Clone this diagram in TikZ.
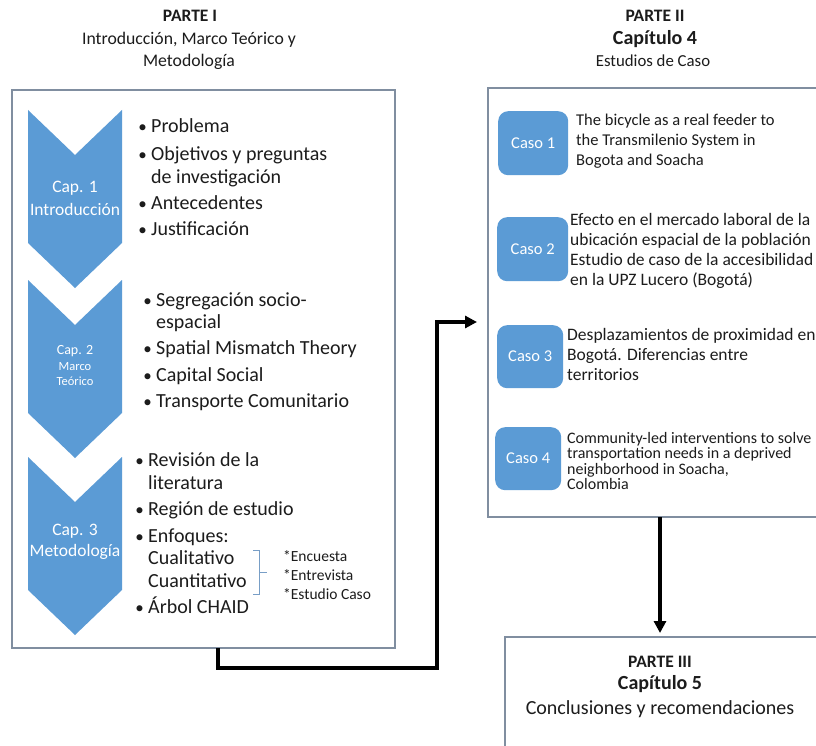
\documentclass[tikz,border=0pt]{standalone}
\usepackage{fontspec}
\setmainfont{Carlito}
\usetikzlibrary{arrows.meta,fit}
\definecolor{capblue}{RGB}{91,155,213}
\definecolor{frame}{RGB}{128,142,160}
\definecolor{ink}{RGB}{28,28,28}
\definecolor{bracecol}{RGB}{120,158,198}

\newcommand\fs[2]{\fontsize{#1}{#2}\selectfont}

\begin{document}
\begin{tikzpicture}[x=1pt,y=-1pt,
  panel/.style={draw=frame,line width=1.2pt,inner sep=0pt,outer sep=0pt},
  title/.style={font=\fs{17.5}{20}\bfseries,text=ink,inner sep=0pt},
  subtitle/.style={font=\fs{17.7}{23},text=ink,inner sep=0pt,align=center},
  chap/.style={font=\fs{20}{24}\bfseries,text=ink,inner sep=0pt},
  caplbl/.style={font=\fs{17.5}{21},text=white,inner sep=0pt},
  caplblsm/.style={font=\fs{12.5}{14},text=white,inner sep=0pt},
  item/.style={anchor=west,font=\fs{20}{24},text=ink,inner sep=0pt,text height=14pt,text depth=4pt},
  bul/.style={anchor=base east,font=\fs{17}{20},text=ink,inner sep=0pt},
  tech/.style={anchor=west,font=\fs{15.5}{18},text=ink,inner sep=0pt,text height=11pt,text depth=3pt},
  casebox/.style={fill=capblue,rounded corners=10pt,inner sep=0pt,font=\fs{16.5}{20},text=white},
  casetext/.style={anchor=west,align=left,font=\fs{16.5}{20},text=ink,inner sep=0pt},
  conn/.style={line width=3.5pt,draw=black,-{Triangle[length=12pt,width=12pt]}}
]
\useasboundingbox (0,0) rectangle (816,746);
\fill[white] (0,0) rectangle (816,746);

% ---------- panel frames ----------
\coordinate (p1a) at (12,90);  \coordinate (p1b) at (395,648);
\coordinate (p2a) at (488,88); \coordinate (p2b) at (840,517);
\coordinate (p3a) at (505,637);\coordinate (p3b) at (840,770);
\node[panel,fit=(p1a)(p1b)] (partI) {};
\node[panel,fit=(p2a)(p2b)] (partII) {};
\node[panel,fit=(p3a)(p3b)] (partIII) {};

% ---------- headings ----------
\node[title] (t1a) at (190,16) {PARTE I};
\node[subtitle] (t1b) at (189,40) {Introducción, Marco Teórico y};
\node[subtitle] (t1c) at (189,62) {Metodología};

\node[title] (t2a) at (655,16) {PARTE II};
\node[chap] (t2b) at (655,39) {Capítulo 4};
\node[font=\fs{16.8}{20},text=ink,inner sep=0pt] (t2c) at (653,61) {Estudios de Caso};

\node[title] (t3a) at (660,662) {PARTE III};
\node[chap] (t3b) at (660,684) {Capítulo 5};
\node[font=\fs{20}{24},text=ink,inner sep=0pt] (t3c) at (660,709) {Conclusiones y recomendaciones};

% ---------- chapter chevrons ----------
\newcommand\chevron[1]{%
  \fill[capblue] (28,#1) -- (75,#1+45) -- (122,#1) -- (122,#1+133)
    -- (75,#1+178) -- (28,#1+133) -- cycle;}
\chevron{110}
\chevron{280}
\chevron{457}

\node[caplbl] (c1a) at (75,188) {Cap. 1};
\node[caplbl] (c1b) at (75,209) {Introducción};
\node[font=\fs{14}{16},text=white,inner sep=0pt] (c2a) at (75,351) {Cap. 2};
\node[caplblsm] (c2b) at (75,367) {Marco};
\node[caplblsm] (c2c) at (75,381) {Teórico};
\node[caplbl] (c3a) at (75,531) {Cap. 3};
\node[caplbl] (c3b) at (75,552) {Metodología};

% ---------- bullet lists ----------
\newcommand\bitem[4]{% name, bullet x, y, text
  \node[bul] (#1b) at (#2+6,#3+5) {•};
  \node[item] (#1) at (#2+10,#3) {#4};}
\newcommand\contitem[4]{% name, bullet x, y, text (continuation line)
  \node[item] (#1) at (#2+10,#3) {#4};}

\bitem{l1a}{141}{128}{Problema}
\bitem{l1b}{141}{156}{Objetivos y preguntas}
\contitem{l1c}{141}{178}{de investigación}
\bitem{l1d}{141}{204}{Antecedentes}
\bitem{l1e}{141}{230}{Justificación}

\bitem{l2a}{146}{301}{Segregación socio-}
\contitem{l2b}{146}{323}{espacial}
\bitem{l2c}{146}{349}{Spatial Mismatch Theory}
\bitem{l2d}{146}{376}{Capital Social}
\bitem{l2e}{146}{402}{Transporte Comunitario}

\bitem{l3a}{138}{461}{Revisión de la}
\contitem{l3b}{138}{484}{literatura}
\bitem{l3c}{138}{510}{Región de estudio}
\bitem{l3d}{138}{537}{Enfoques:}
\contitem{l3e}{138}{559}{Cualitativo}
\contitem{l3f}{138}{582}{Cuantitativo}
\bitem{l3g}{138}{608}{Árbol CHAID}

% bracket grouping the two approaches
\draw[bracecol,line width=0.9pt] (253,550) -- (259,550) -- (259,594) -- (253,594);
\draw[bracecol,line width=0.9pt] (259,572) -- (267,572);
\node[tech] (m1) at (283,557) {*Encuesta};
\node[tech] (m2) at (283,576) {*Entrevista};
\node[tech] (m3) at (283,595) {*Estudio Caso};

% ---------- case studies ----------
\node[casebox,minimum width=70pt,minimum height=64pt,anchor=north west] (k1) at (498,111) {Caso 1};
\node[casebox,minimum width=71pt,minimum height=64pt,anchor=north west] (k2) at (497,217) {Caso 2};
\node[casebox,minimum width=66pt,minimum height=63pt,anchor=north west] (k3) at (497,325) {Caso 3};
\node[casebox,minimum width=66pt,minimum height=63pt,anchor=north west] (k4) at (495,427) {Caso 4};

\node[casetext] (k1t) at (576,141) {The bicycle as a real feeder to\\the Transmilenio System in\\Bogota and Soacha};
\node[casetext,font=\fs{17.5}{20}] (k2t) at (570,251) {Efecto en el mercado laboral de la\\ubicación espacial de la población\\Estudio de caso de la accesibilidad\\en la UPZ Lucero (Bogotá)};
\node[casetext,font=\fs{17.5}{20}] (k3t) at (567,354) {Desplazamientos de proximidad en\\Bogotá. Diferencias entre\\territorios};
\node[casetext,font=\fs{16}{15.5}] (k4t) at (567,461) {Community-led interventions to solve\\transportation needs in a deprived\\neighborhood in Soacha,\\Colombia};

% ---------- connectors ----------
\coordinate (bendA) at (218,668);
\coordinate (bendB) at (437,322);
\coordinate (downx) at (660,0);
\draw[conn,shorten >=11pt] (partI.south -| bendA) -- (bendA) -| (bendB) -- (bendB -| partII.west);
\draw[conn,shorten >=4pt] (partII.south -| downx) -- (partIII.north -| downx);
\end{tikzpicture}
\end{document}
